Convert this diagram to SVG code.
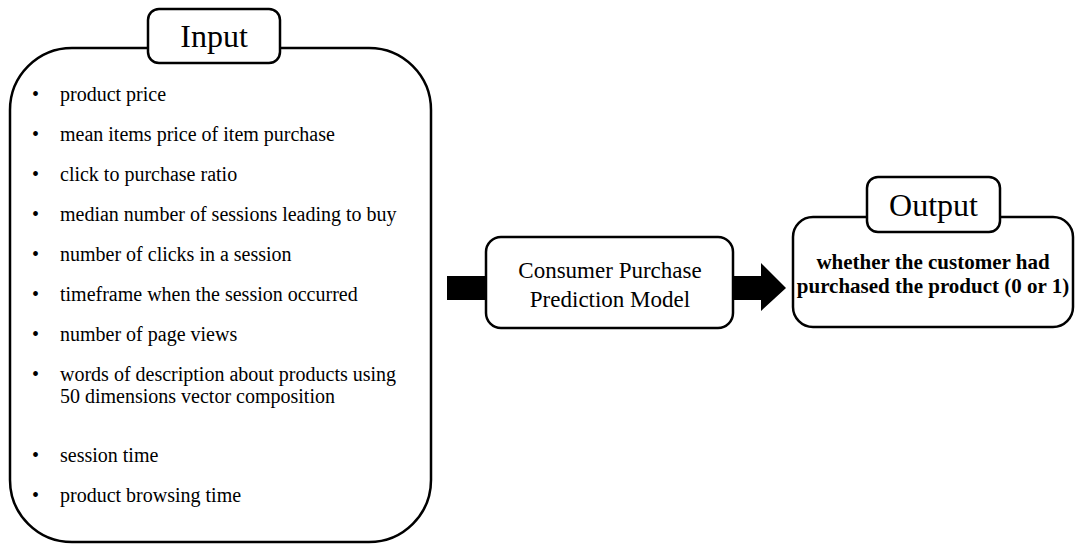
<svg xmlns="http://www.w3.org/2000/svg" width="1075" height="545" viewBox="0 0 1075 545">
<style>
.box{fill:#fff;stroke:#000;stroke-width:2.5}
.t{font-family:"Liberation Serif","Times New Roman",serif;fill:#000}
.item{font-size:20px}
.title{font-size:32px;text-anchor:middle}
.mid{font-size:23px;text-anchor:middle}
.out{font-size:21px;font-weight:bold;text-anchor:middle}
</style>
<rect width="1075" height="545" fill="#fff"/>
<g id="input">
<rect class="box" x="10" y="48" width="421" height="494" rx="62" ry="62"/>
<rect class="box" x="148" y="9" width="132" height="54" rx="11" ry="11"/>
<text class="t title" x="214" y="47">Input</text>
<g class="t item">
<text x="32" y="101">•</text><text x="60" y="101">product price</text>
<text x="32" y="141">•</text><text x="60" y="141">mean items price of item purchase</text>
<text x="32" y="181">•</text><text x="60" y="181">click to purchase ratio</text>
<text x="32" y="221">•</text><text x="60" y="221">median number of sessions leading to buy</text>
<text x="32" y="261">•</text><text x="60" y="261">number of clicks in a session</text>
<text x="32" y="301">•</text><text x="60" y="301">timeframe when the session occurred</text>
<text x="32" y="341">•</text><text x="60" y="341">number of page views</text>
<text x="32" y="381">•</text><text x="60" y="381">words of description about products using</text>
<text x="60" y="403">50 dimensions vector composition</text>
<text x="32" y="462">•</text><text x="60" y="462">session time</text>
<text x="32" y="502">•</text><text x="60" y="502">product browsing time</text>
</g>
</g>
<g id="connectors">
<rect x="447" y="276" width="40" height="24" fill="#000"/>
<polygon points="733,276 761,276 761,263 786,288 761,311 761,300 733,300" fill="#000"/>
</g>
<g id="model">
<rect class="box" x="486" y="237" width="247" height="91" rx="15" ry="15"/>
<text class="t mid" x="610" y="278">Consumer Purchase</text>
<text class="t mid" x="610" y="307">Prediction Model</text>
</g>
<g id="output">
<rect class="box" x="793" y="217" width="280" height="110" rx="20" ry="20"/>
<rect class="box" x="867" y="177" width="133" height="55" rx="11" ry="11"/>
<text class="t title" x="933.5" y="216">Output</text>
<text class="t out" x="933" y="269">whether the customer had</text>
<text class="t out" x="933" y="293">purchased the product (0 or 1)</text>
</g>
</svg>
